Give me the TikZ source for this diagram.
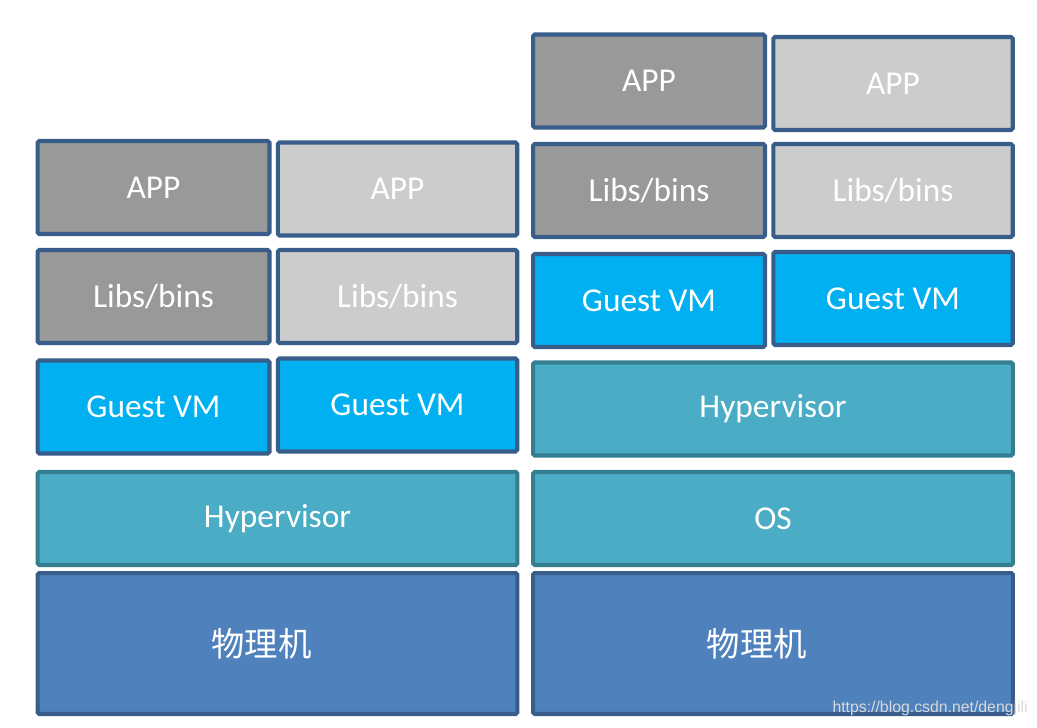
\documentclass[tikz,border=0pt]{standalone}
\usepackage{fontspec}
\setmainfont{Carlito}
\newfontfamily\cjk{Noto Sans CJK SC}
\newfontfamily\urlfont{Liberation Sans}
\definecolor{edgeblue}{HTML}{385D8A}
\definecolor{edgeteal}{HTML}{357D91}
\definecolor{appdark}{HTML}{999999}
\definecolor{applight}{HTML}{CCCCCC}
\definecolor{guestblue}{HTML}{00B0F0}
\definecolor{hypteal}{HTML}{4BACC6}
\definecolor{hwblue}{HTML}{4F81BD}

\begin{document}
\begin{tikzpicture}[x=0.02cm,y=-0.02cm,
    layer/.style={draw=edgeblue,line width=2.3pt,rounded corners=1pt,text=white,
        font=\fontsize{19}{23}\selectfont,inner sep=0pt,minimum height=1.86cm},
    narrow/.style={layer,minimum width=4.64cm},
    broad/.style={layer,minimum width=4.79cm},
    wide/.style={layer,minimum width=9.6cm},
    dark/.style={narrow,fill=appdark},
    light/.style={broad,fill=applight},
    guest/.style={narrow,fill=guestblue},
    guestb/.style={broad,fill=guestblue},
    hyp/.style={wide,fill=hypteal,draw=edgeteal},
    hw/.style={wide,fill=hwblue,minimum height=2.82cm,font=\cjk\fontsize{19}{23}\selectfont}]
    \useasboundingbox (0,0) rectangle (1037,727);
    % left stack: hypervisor on the machine
    \node[dark]   (appL1) at (153.5,187.5) {APP};
    \node[light]  (appL2) at (397.5,189) {APP};
    \node[dark]   (libL1) at (153.5,296.5) {Libs/bins};
    \node[light]  (libL2) at (397.5,296.5) {Libs/bins};
    \node[guest]  (vmL1)  at (153.5,407) {Guest VM};
    \node[guestb] (vmL2)  at (397.5,405) {Guest VM};
    \node[hyp]    (hypL)  at (277.5,518.5) {Hypervisor};
    \node[hw]     (hwL)   at (277.5,643.5) {物理机\rule{0.64cm}{0pt}};
    % right stack: hypervisor on an OS
    \node[dark]   (appR1) at (649,81) {APP};
    \node[light]  (appR2) at (893,83.5) {APP};
    \node[dark]   (libR1) at (649,190.5) {Libs/bins};
    \node[light]  (libR2) at (893,190.5) {Libs/bins};
    \node[guest]  (vmR1)  at (649,300.5) {Guest VM};
    \node[guestb] (vmR2)  at (893,298.5) {Guest VM};
    \node[hyp]    (hypR)  at (773,409) {Hypervisor};
    \node[hyp]    (osR)   at (773,518.5) {OS};
    \node[hw]     (hwR)   at (773,643.5) {物理机\rule{0.64cm}{0pt}};
    \node[anchor=base east,text=gray!30,font=\urlfont\fontsize{9}{11}\selectfont,inner sep=0pt]
        (url) at (1028,712) {https://blog.csdn.net/dengjili};
\end{tikzpicture}
\end{document}
